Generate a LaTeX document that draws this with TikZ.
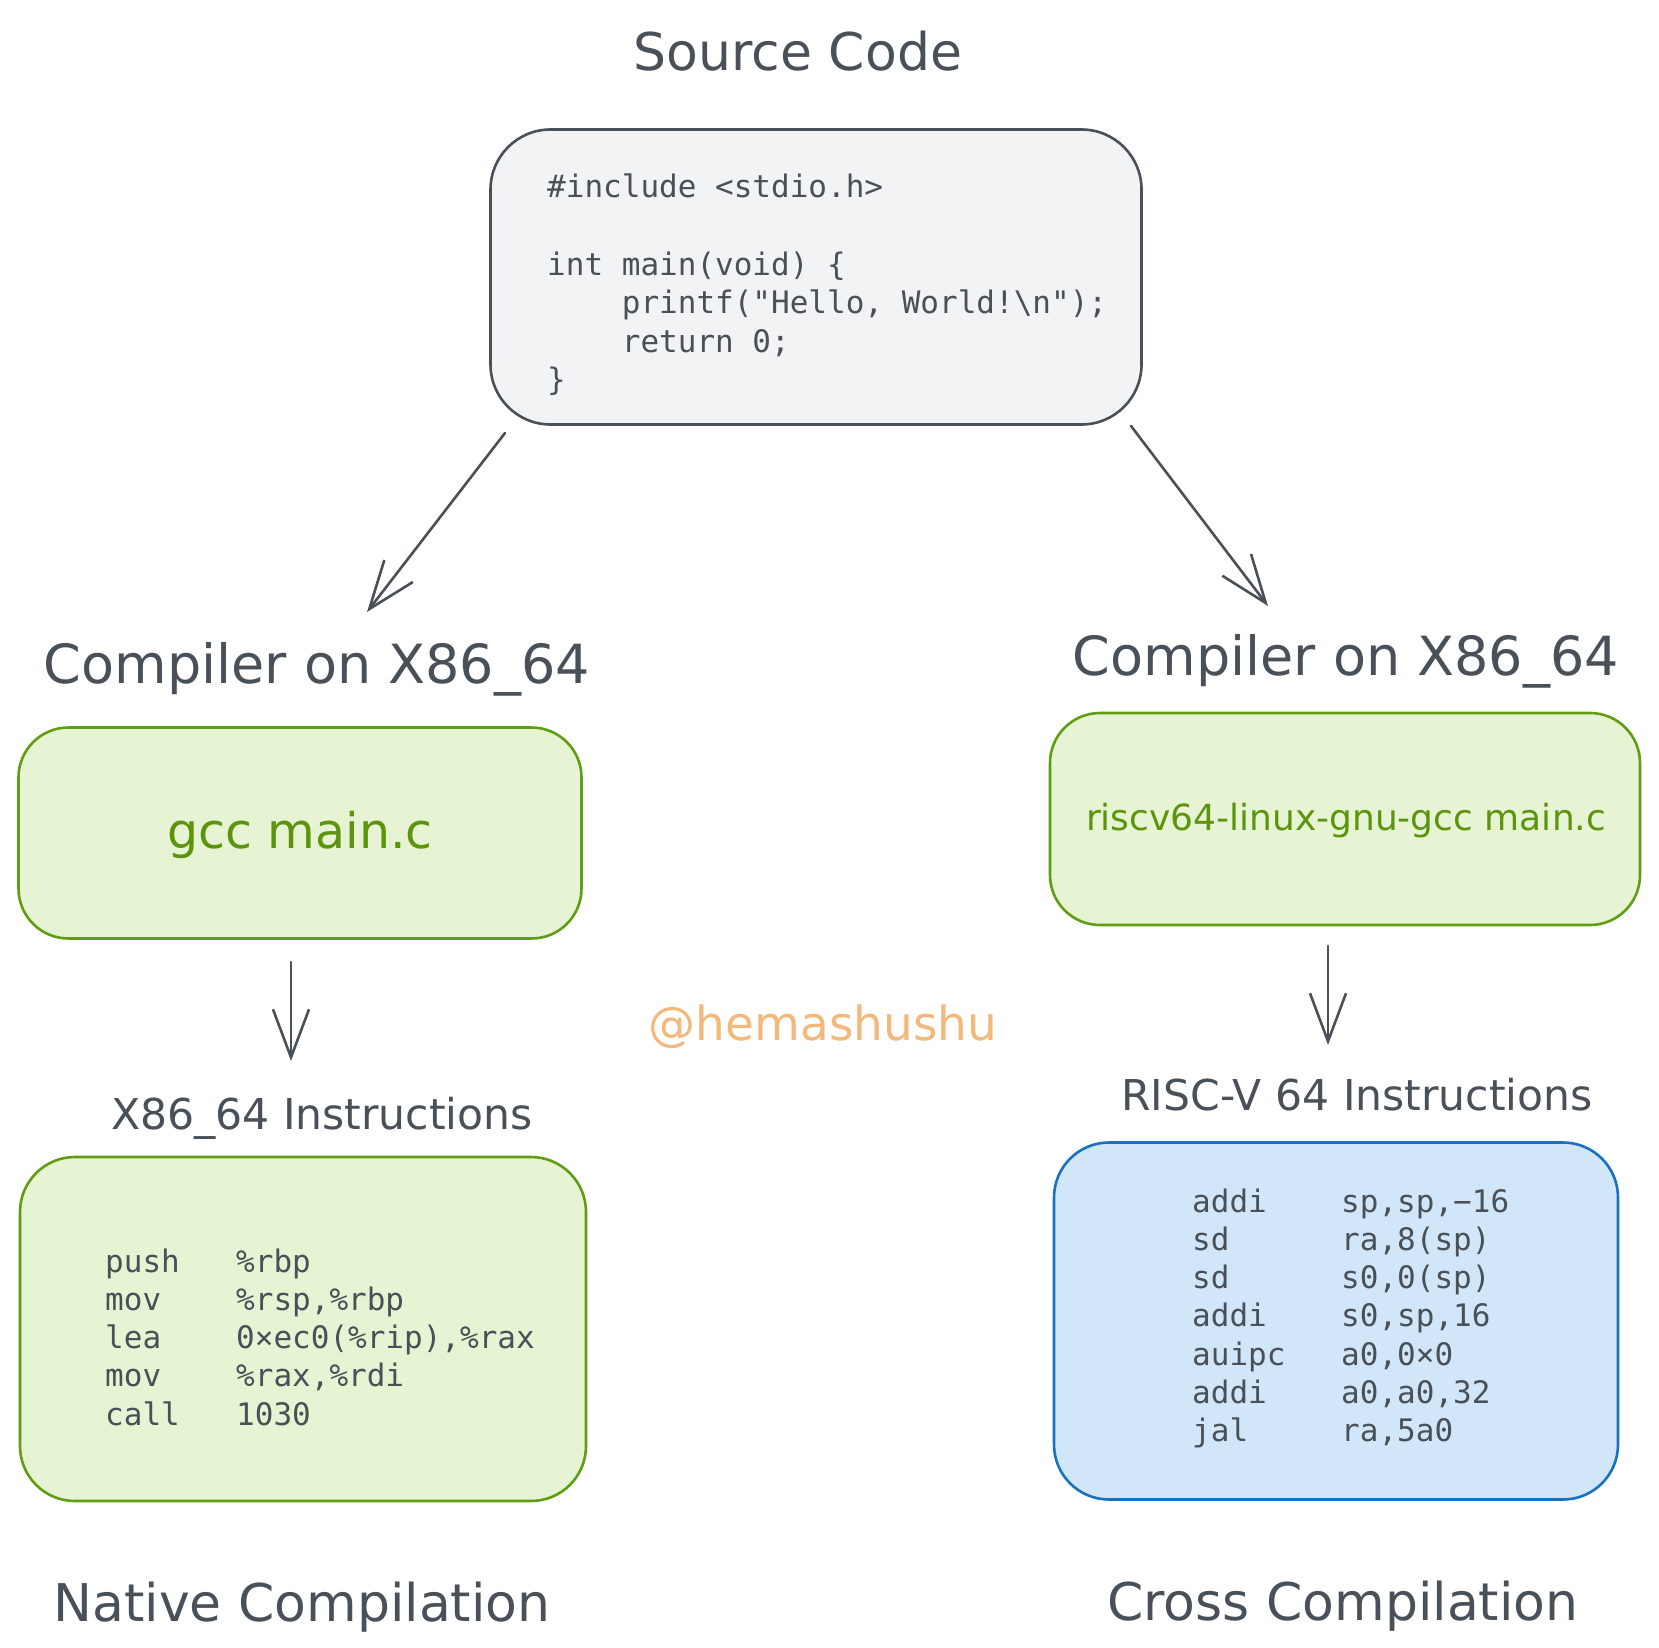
\documentclass[tikz,border=0pt]{standalone}
\usepackage{fontspec}
\setmainfont{DejaVu Sans}
\setmonofont{DejaVu Sans Mono}
\usetikzlibrary{arrows.meta}

\definecolor{ink}{HTML}{495057}
\definecolor{srcfill}{HTML}{F1F3F5}
\definecolor{greenfill}{HTML}{E6F4D3}
\definecolor{greenline}{HTML}{609D12}
\definecolor{greentext}{HTML}{5C940D}
\definecolor{bluefill}{HTML}{D2E6FA}
\definecolor{blueline}{HTML}{1971C2}
\definecolor{signcolor}{HTML}{F2B87C}

\begin{document}
\begin{tikzpicture}[x=1pt, y=-1pt,
  box/.style={draw, line width=2.6pt, rounded corners=55pt, inner sep=0pt},
  title/.style={anchor=base, text=ink, font=\fontsize{52}{62}\selectfont},
  small/.style={anchor=base, text=ink, font=\fontsize{42.5}{50}\selectfont},
  code/.style={anchor=base west, text=ink, inner sep=0pt, font=\ttfamily\fontsize{31}{38}\selectfont},
  arrow/.style={-{Straight Barb[length=48pt, width=36pt]}, draw=ink, line width=2.6pt, line cap=round}]
\useasboundingbox (0,0) rectangle (1659,1648);
\fill[white] (0,0) rectangle (1659,1648);

% source code
\node[title] (srcT) at (798,71) {Source Code};
\node[box, draw=ink, fill=srcfill, minimum width=651pt, minimum height=295pt, rounded corners=60pt] (src) at (816,277) {};
\node[code] (src1) at (547,198) {\#include <stdio.h>};
\node[code] (src2) at (547,275) {int main(void) \{};
\node[code] (src3) at (547,313) {\phantom{0000}printf("Hello, World!\textbackslash n");};
\node[code] (src4) at (547,352) {\phantom{0000}return 0;};
\node[code] (src5) at (547,390) {\}};

% compilers
\node[title, font=\fontsize{54}{64}\selectfont] (cmpL) at (317,683) {Compiler on X86\_64};
\node[title, font=\fontsize{54}{64}\selectfont] (cmpR) at (1346,675) {Compiler on X86\_64};
\node[box, draw=greenline, fill=greenfill, minimum width=563pt, minimum height=211pt, rounded corners=50pt] (gcc) at (300,833) {};
\node[box, draw=greenline, fill=greenfill, minimum width=590pt, minimum height=212pt, rounded corners=50pt] (rvgcc) at (1345,819) {};
\node[anchor=base, text=greentext, font=\fontsize{49}{58}\selectfont] (gccT) at (300,848) {gcc main.c};
\node[anchor=base, text=greentext, font=\fontsize{36}{44}\selectfont] (rvgccT) at (1346,830) {riscv64-linux-gnu-gcc main.c};

\node[anchor=base, text=signcolor, font=\fontsize{47}{56}\selectfont] (sign) at (823,1040) {@hemashushu};

% instructions
\node[small] (x86T) at (322,1129) {X86\_64 Instructions};
\node[small] (rvT) at (1357,1110) {RISC-V 64 Instructions};
\node[box, draw=greenline, fill=greenfill, minimum width=566pt, minimum height=344pt] (x86) at (303,1329) {};
\node[box, draw=blueline, fill=bluefill, minimum width=564pt, minimum height=357pt] (rvasm) at (1336,1321) {};

\foreach \op/\arg [count=\i] in {push/\%rbp, mov/{\%rsp,\%rbp}, lea/{0×ec0(\%rip),\%rax}, mov/{\%rax,\%rdi}, call/1030}
{
  \node[code] (x86op\i) at (105,1272+38.3*\i-38.3) {\op};
  \node[code] (x86arg\i) at (236,1272+38.3*\i-38.3) {\arg};
}
\foreach \op/\arg [count=\i] in {addi/{sp,sp,−16}, sd/{ra,8(sp)}, sd/{s0,0(sp)}, addi/{s0,sp,16}, auipc/{a0,0×0}, addi/{a0,a0,32}, jal/{ra,5a0}}
{
  \node[code] (rvop\i) at (1192,1212+38.3*\i-38.3) {\op};
  \node[code] (rvarg\i) at (1341,1212+38.3*\i-38.3) {\arg};
}

\node[title] (natT) at (302,1621) {Native Compilation};
\node[title] (crsT) at (1343,1620) {Cross Compilation};

% arrows
\coordinate (a1s) at (505,433);
\coordinate (a1e) at (367,612);
\coordinate (a2s) at (1131,426);
\coordinate (a2e) at (1268,606);
\coordinate (a3s) at (291,962);
\coordinate (a3e) at (291,1061);
\coordinate (a4s) at (1328,946);
\coordinate (a4e) at (1328,1045);
\draw[arrow] (a1s) -- (a1e);
\draw[arrow] (a2s) -- (a2e);
\draw[arrow] (a3s) -- (a3e);
\draw[arrow] (a4s) -- (a4e);
\end{tikzpicture}
\end{document}
